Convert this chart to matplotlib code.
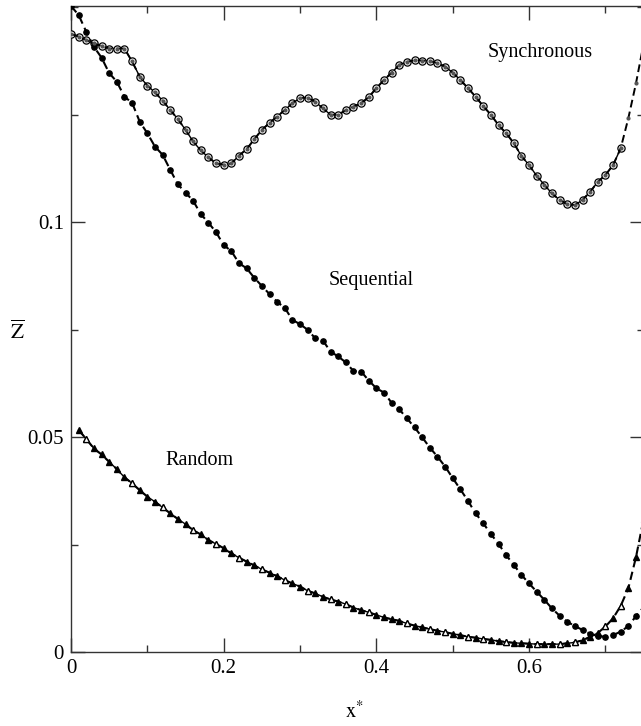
import matplotlib
matplotlib.use("Agg")
import matplotlib.pyplot as plt
import numpy as np
from matplotlib.ticker import MultipleLocator

plt.rcParams["font.family"] = ["Liberation Serif", "DejaVu Serif"]
plt.rcParams["mathtext.fontset"] = "stix"

# ------------------------------------------------------------
# data read off the figure (x* sampled every 0.01)
# ------------------------------------------------------------
x_grid = [0.00, 0.01, 0.02, 0.03, 0.04, 0.05, 0.06, 0.07, 0.08, 0.09,
          0.10, 0.11, 0.12, 0.13, 0.14, 0.15, 0.16, 0.17, 0.18, 0.19,
          0.20, 0.21, 0.22, 0.23, 0.24, 0.25, 0.26, 0.27, 0.28, 0.29,
          0.30, 0.31, 0.32, 0.33, 0.34, 0.35, 0.36, 0.37, 0.38, 0.39,
          0.40, 0.41, 0.42, 0.43, 0.44, 0.45, 0.46, 0.47, 0.48, 0.49,
          0.50, 0.51, 0.52, 0.53, 0.54, 0.55, 0.56, 0.57, 0.58, 0.59,
          0.60, 0.61, 0.62, 0.63, 0.64, 0.65, 0.66, 0.67, 0.68, 0.69,
          0.70, 0.71, 0.72, 0.73, 0.74, 0.75]

synchronous = [0.1438, 0.1432, 0.1424, 0.1416, 0.1410, 0.1404, 0.1404, 0.1404, 0.1374, 0.1339,
               0.1318, 0.1302, 0.1283, 0.1261, 0.1240, 0.1215, 0.1188, 0.1167, 0.1151, 0.1137,
               0.1134, 0.1137, 0.1155, 0.1170, 0.1193, 0.1215, 0.1231, 0.1246, 0.1261, 0.1277,
               0.1289, 0.1290, 0.1280, 0.1265, 0.1250, 0.1250, 0.1261, 0.1269, 0.1277, 0.1291,
               0.1312, 0.1331, 0.1348, 0.1366, 0.1373, 0.1377, 0.1376, 0.1375, 0.1370, 0.1362,
               0.1348, 0.1331, 0.1312, 0.1292, 0.1270, 0.1250, 0.1226, 0.1207, 0.1184, 0.1154,
               0.1133, 0.1108, 0.1087, 0.1067, 0.1052, 0.1042, 0.1040, 0.1052, 0.1071, 0.1094,
               0.1110, 0.1133, 0.1172, 0.1242, 0.1323, 0.1415]

sequential = [0.1503, 0.1482, 0.1443, 0.1408, 0.1383, 0.1347, 0.1327, 0.1292, 0.1278, 0.1234,
              0.1207, 0.1176, 0.1157, 0.1122, 0.1088, 0.1069, 0.1050, 0.1019, 0.0999, 0.0977,
              0.0947, 0.0933, 0.0905, 0.0893, 0.0871, 0.0852, 0.0833, 0.0815, 0.0801, 0.0773,
              0.0763, 0.0750, 0.0730, 0.0725, 0.0699, 0.0688, 0.0674, 0.0654, 0.0653, 0.0632,
              0.0614, 0.0604, 0.0580, 0.0565, 0.0544, 0.0523, 0.0500, 0.0476, 0.0455, 0.0432,
              0.0405, 0.0379, 0.0352, 0.0323, 0.0300, 0.0275, 0.0252, 0.0226, 0.0203, 0.0180,
              0.0160, 0.0141, 0.0122, 0.0102, 0.0085, 0.0071, 0.0061, 0.0052, 0.0043, 0.0038,
              0.0036, 0.0040, 0.0048, 0.0061, 0.0084, 0.0105]

# random starts at x* = 0.01
random_ = [np.nan, 0.0517, 0.0496, 0.0474, 0.0460, 0.0443, 0.0426, 0.0407, 0.0393, 0.0377,
           0.0362, 0.0350, 0.0337, 0.0323, 0.0310, 0.0298, 0.0284, 0.0274, 0.0261, 0.0252,
           0.0242, 0.0230, 0.0220, 0.0211, 0.0202, 0.0193, 0.0185, 0.0177, 0.0168, 0.0160,
           0.0153, 0.0143, 0.0137, 0.0129, 0.0123, 0.0118, 0.0112, 0.0104, 0.0098, 0.0093,
           0.0087, 0.0081, 0.0077, 0.0073, 0.0067, 0.0062, 0.0058, 0.0054, 0.0050, 0.0047,
           0.0043, 0.0040, 0.0036, 0.0034, 0.0031, 0.0029, 0.0026, 0.0024, 0.0022, 0.0021,
           0.0020, 0.0019, 0.0019, 0.0019, 0.0019, 0.0021, 0.0023, 0.0028, 0.0036, 0.0045,
           0.0060, 0.0079, 0.0108, 0.0149, 0.0221, 0.0310]

# points where the random curve shows an open triangle
random_open = [2, 8, 12, 16, 19, 22, 25, 28, 31, 34, 36, 39, 44, 47, 49, 52, 54,
               57, 61, 64, 66, 70, 72]

x_ticks = [0, 0.2, 0.4, 0.6]
y_ticks = [0, 0.05, 0.1]

x = np.array(x_grid)
syn = np.array(synchronous)
seq = np.array(sequential)
rnd = np.array(random_)

fig = plt.figure(figsize=(6.41, 7.26), dpi=100)
ax = fig.add_axes([71 / 641, 73.7 / 726, 572.6 / 641, 646.3 / 726])

dash = (0, (4.0, 2.2))

# synchronous: open circles on a solid line, small dots on a dashed line
ax.plot(x[:73], syn[:73], "-", color="black", lw=1.0,
        marker="o", ms=5.2, mfc="white", mec="black", mew=0.9, zorder=3)
ax.plot(x, syn, linestyle=dash, color="black", lw=1.4,
        marker="o", ms=2.0, mfc="#555555", mec="#555555", zorder=4)

# sequential: dashed line with filled dots
ax.plot(x, seq, linestyle=dash, color="black", lw=1.5,
        marker="o", ms=3.8, mfc="black", mec="black", zorder=3)

# random: filled triangles, some open
ax.plot(x[:70], rnd[:70], "-", color="black", lw=1.0, zorder=2)
ax.plot(x, rnd, linestyle=dash, color="black", lw=1.5,
        marker="^", ms=4.6, mfc="black", mec="black", zorder=3)
ax.plot(x[random_open], rnd[random_open], linestyle="none",
        marker="^", ms=4.6, mfc="white", mec="black", mew=0.9, zorder=4)

ax.set_xlim(0, 0.75)
ax.set_ylim(0, 0.1503)

ax.set_xticks(x_ticks)
ax.set_xticklabels(["0", "0.2", "0.4", "0.6"])
ax.set_yticks(y_ticks)
ax.set_yticklabels(["0", "0.05", "0.1"])
ax.xaxis.set_minor_locator(MultipleLocator(0.1))
ax.yaxis.set_minor_locator(MultipleLocator(0.025))

ax.tick_params(which="both", direction="in", top=True, right=True,
               labelsize=15, pad=5, width=1.0, color="#333333")
ax.tick_params(which="major", length=10)
ax.tick_params(which="minor", length=5)
for sp in ax.spines.values():
    sp.set_linewidth(1.0)
    sp.set_color("#333333")

ax.text(0.168, 0.0445, "Random", fontsize=14.5, ha="center", va="center")
ax.text(0.393, 0.0865, "Sequential", fontsize=14.5, ha="center", va="center")
ax.text(0.615, 0.1396, "Synchronous", fontsize=14.5, ha="center", va="center")

fig.text(17 / 641, 1 - 332 / 726, r"$\overline{\mathrm{Z}}$", fontsize=15,
         ha="center", va="center")
fig.text(355 / 641, 1 - 712 / 726, r"$\mathrm{x}^{*}$", fontsize=15,
         ha="center", va="center")

fig.savefig("out.png", dpi=100)
